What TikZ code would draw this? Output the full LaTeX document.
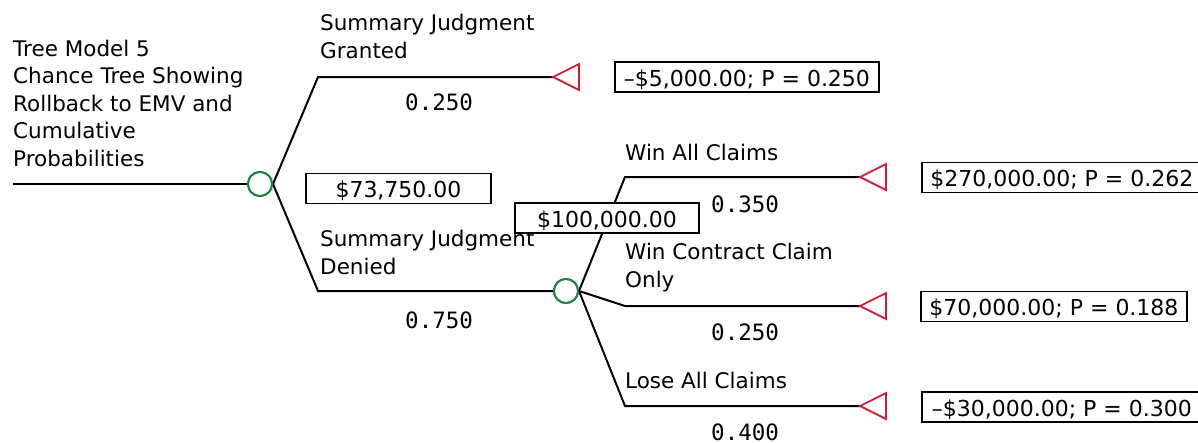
\documentclass[tikz,border=0pt]{standalone}
\usepackage{fontspec}
\setmainfont{DejaVu Sans}
\newfontfamily\probfont{DejaVu Sans Mono}
\definecolor{chancegreen}{RGB}{30,130,70}
\definecolor{termred}{RGB}{210,30,50}
\begin{document}
\begin{tikzpicture}[x=1pt,y=-1pt,
  branch/.style={line width=2pt, black},
  chance/.style={circle, draw=chancegreen, line width=2pt, minimum size=24pt, inner sep=0pt, fill=white},
  term/.style={draw=termred, line width=1.8pt, line join=miter},
  lbl/.style={anchor=base west, inner sep=0pt, align=left, font=\fontsize{21.5}{27.5}\selectfont},
  prob/.style={anchor=base west, inner sep=0pt, font=\probfont\fontsize{22.5}{22.5}\selectfont},
  valbox/.style={draw, fill=white, line width=1.8pt, inner sep=0pt, minimum height=30pt,
    text height=21pt, text depth=3pt, font=\fontsize{22}{22}\selectfont}]
\useasboundingbox (0,0) rectangle (1198,442);

% decision tree skeleton
\coordinate (root) at (13,184);
\node[chance] (c1) at (260,184) {};
\coordinate (k1) at (318,77);
\coordinate (t1) at (553,77);
\coordinate (k1b) at (318,291);
\node[chance] (c2) at (566,291) {};
\coordinate (k2) at (625,177);
\coordinate (t2) at (860,177);
\coordinate (k3) at (625,306);
\coordinate (t3) at (860,306);
\coordinate (k4) at (625,406);
\coordinate (t4) at (860,406);

\draw[branch] (root) -- (c1.west);
\draw[branch] (c1.east) -- (k1) -- (t1);
\draw[branch] (c1.east) -- (k1b) -- (c2.west);
\draw[branch] (c2.east) -- (k2) -- (t2);
\draw[branch] (c2.east) -- (k3) -- (t3);
\draw[branch] (c2.east) -- (k4) -- (t4);
\node[chance] at (c1) {};
\node[chance] at (c2) {};

% terminal triangles
\foreach \t in {t1,t2,t3,t4}
  \draw[term] (\t) -- ++(26,-13) -- ++(0,26) -- cycle;

% branch labels (anchored on the baseline of the last line)
\node[lbl] (title) at (13,166) {Tree Model 5\\Chance Tree Showing\\Rollback to EMV and\\Cumulative\\Probabilities};
\node[lbl] (lgr) at (320,58) {Summary Judgment\\Granted};
\node[lbl] (lde) at (320,274) {Summary Judgment\\Denied};
\node[lbl] (lwa) at (625,160) {Win All Claims};
\node[lbl] (lwc) at (625,287) {Win Contract Claim\\Only};
\node[lbl] (lla) at (625,388) {Lose All Claims};

% probabilities
\node[prob] (p1) at (405,110) {0.250};
\node[prob] (p2) at (405,328) {0.750};
\node[prob] (p3) at (711,212) {0.350};
\node[prob] (p4) at (711,340) {0.250};
\node[prob] (p5) at (711,440) {0.400};

% rolled-back values and payoffs
\node[valbox, minimum width=185pt] (v1) at (398.5,188.5) {\$73,750.00};
\node[valbox, minimum width=184pt] (v2) at (607,218) {\$100,000.00};
\node[valbox, minimum width=264pt] (o1) at (747,77) {–\$5,000.00; P = 0.250};
\node[valbox, minimum width=280pt, anchor=west] (o2) at (921,177.5) {\$270,000.00; P = 0.262};
\node[valbox, minimum width=266pt] (o3) at (1054,306.5) {\$70,000.00; P = 0.188};
\node[valbox, minimum width=280pt, anchor=west] (o4) at (921,407) {–\$30,000.00; P = 0.300};
\end{tikzpicture}
\end{document}
